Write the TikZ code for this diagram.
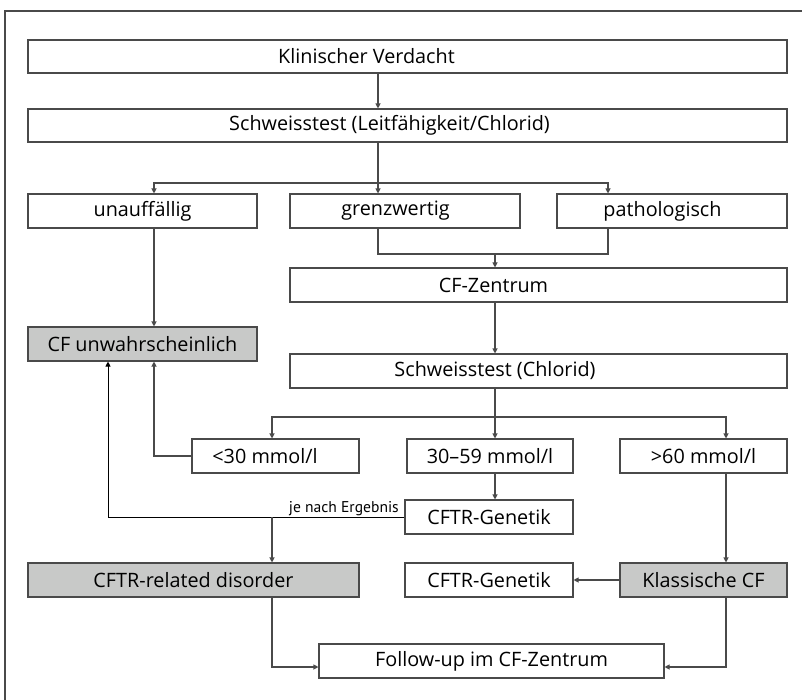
\documentclass[tikz,border=0pt]{standalone}
\usepackage{fontspec}
\setmainfont{Open Sans}
\newfontfamily\smallfont{PT Sans}
\usetikzlibrary{arrows.meta,calc}
\definecolor{ln}{HTML}{4A4A4A}
\definecolor{boxfill}{HTML}{C8C9C8}
\newcommand{\bfs}{\fontsize{19.8}{22}\selectfont}
\begin{document}
\begin{tikzpicture}[x=1pt,y=-1pt,
  box/.style={draw=ln,line width=1.1pt,inner sep=0pt,minimum height=34pt,font=\bfs,text=black},
  grey/.style={box,fill=boxfill},
  arr/.style={draw=ln,line width=1.1pt,-{Triangle[length=5pt,width=5pt]}},
  ln/.style={draw=ln,line width=1.1pt},
  lab/.style={font=\bfs,text=black}]
\useasboundingbox (0,0) rectangle (802,700);
\draw[ln] (5,703) -- (5,11) -- (805,11);
% columns / rows
\coordinate (x108) at (108,0);
\coordinate (x154) at (154,0);
\coordinate (x272) at (272,0);
\coordinate (x378) at (378,0);
\coordinate (x495) at (495,0);
\coordinate (x608) at (608,0);
\coordinate (x726) at (726,0);
\coordinate (h1) at (0,183);
\coordinate (h2) at (0,254);
\coordinate (h3) at (0,417);
\coordinate (h5) at (0,667);
% nodes
\node[box,minimum width=759pt,minimum height=33pt,label={[lab,xshift=-41pt]center:Klinischer Verdacht}] (kv) at (407.5,56.5) {};
\node[box,minimum width=759pt,minimum height=33pt,label={[lab,xshift=-18pt]center:Schweisstest (Leitfähigkeit/Chlorid)}] (st1) at (407.5,125.5) {};
\node[box,minimum width=229pt] (un) at (142.5,211) {unauffällig};
\node[box,minimum width=230pt,label={[lab,xshift=-9.5pt]center:grenzwertig}] (gr) at (405,211) {};
\node[box,minimum width=230pt,label={[lab,xshift=-9.5pt]center:pathologisch}] (pa) at (672,211) {};
\node[box,minimum width=497pt,label={[lab,xshift=-45pt]center:CF-Zentrum}] (cfz) at (538.5,285) {};
\node[box,minimum width=497pt,label={[lab,xshift=-43.5pt]center:Schweisstest (Chlorid)}] (st2) at (538.5,371) {};
\node[grey,minimum width=229pt] (cfu) at (142.5,344) {CF unwahrscheinlich};
\node[box,minimum width=167pt,label={[lab,xshift=-10.5pt]center:<30 mmol/l}] (l30) at (275.5,456) {};
\node[box,minimum width=166pt] (m30) at (490,456) {30–59 mmol/l};
\node[box,minimum width=167pt] (g60) at (703.5,456) {>60 mmol/l};
\node[box,minimum width=168pt] (gen1) at (489,517) {CFTR-Genetik};
\node[grey,minimum width=331pt] (crd) at (193.5,580) {CFTR-related disorder};
\node[box,minimum width=168pt] (gen2) at (489,580) {CFTR-Genetik};
\node[grey,minimum width=167pt] (kcf) at (703.5,580) {Klassische CF};
\node[box,minimum width=345pt] (fu) at (491.5,661) {Follow-up im CF-Zentrum};
\node[anchor=base east,inner sep=0pt,font=\smallfont\fontsize{15.6}{17}\selectfont] (je) at (399,512) {je nach Ergebnis};
% connectors
\draw[arr] (kv.south -| x378) -- (st1.north -| x378);
\draw[arr] (st1.south -| x378) -- (gr.north -| x378);
\draw[arr] (h1 -| x378) -| (un.north -| x154);
\draw[arr] (h1 -| x378) -| (pa.north -| x608);
\draw[ln] (gr.south -| x378) |- (h2 -| x608) -- (pa.south -| x608);
\draw[arr] (h2 -| x495) -- (cfz.north -| x495);
\draw[arr] (cfz.south -| x495) -- (st2.north -| x495);
\draw[arr] (un.south -| x154) -- (cfu.north -| x154);
\draw[arr] (st2.south -| x495) -- (m30.north -| x495);
\draw[arr] (h3 -| x495) -| (l30.north -| x272);
\draw[arr] (h3 -| x495) -| (g60.north -| x726);
\draw[arr] (l30.west) -| (cfu.south -| x154);
\draw[arr] (m30.south -| x495) -- (gen1.north -| x495);
\draw[arr,draw=black,line width=0.9pt] (gen1.west) -| (cfu.south -| x108);
\draw[arr] (gen1.west -| x272) -- (crd.north -| x272);
\draw[arr] (g60.south -| x726) -- (kcf.north -| x726);
\draw[arr] (kcf.west) -- (gen2.east);
\draw[arr] (crd.south -| x272) |- (fu.west |- h5);
\draw[arr] (kcf.south -| x726) |- (fu.east |- h5);
\end{tikzpicture}
\end{document}
